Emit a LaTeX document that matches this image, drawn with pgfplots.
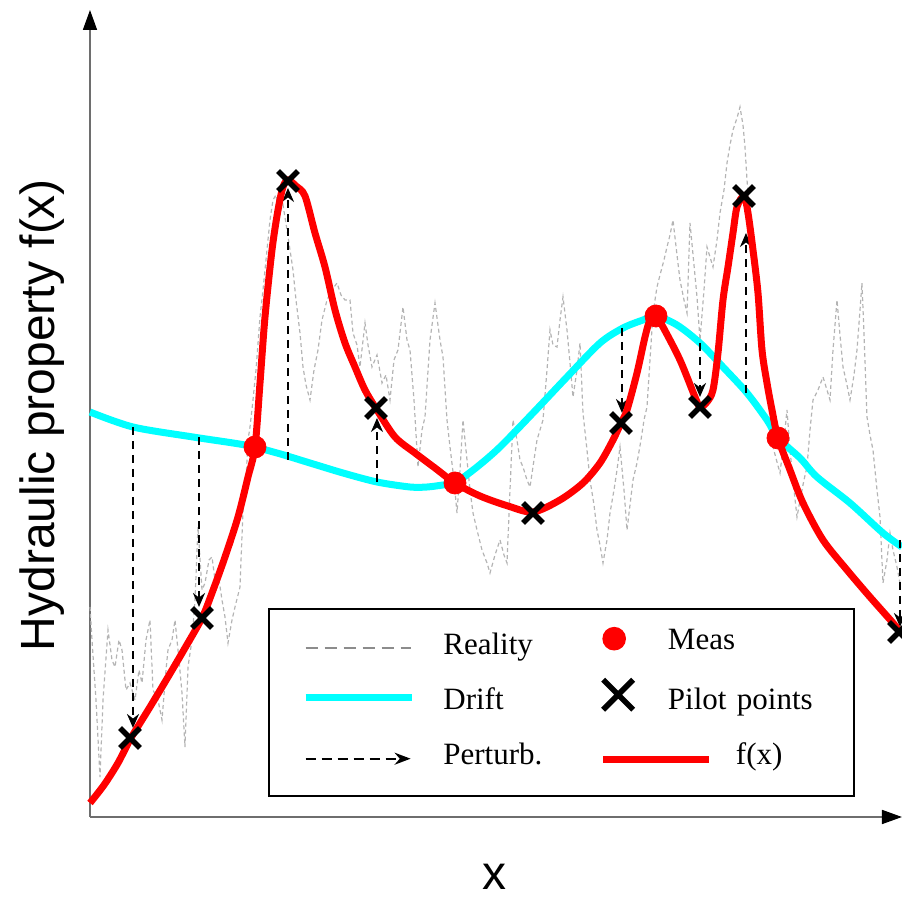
\documentclass[border=0pt]{standalone}
\usepackage{pgfplots}
\pgfplotsset{compat=1.18}
\usepackage{fontspec}
\setmainfont{Liberation Serif}
\newfontfamily\arialfont{Liberation Sans}
\usetikzlibrary{arrows.meta}
\definecolor{fred}{RGB}{255,0,0}
\definecolor{fcyan}{RGB}{0,255,255}
\definecolor{realgray}{RGB}{180,180,180}
\definecolor{leggray}{RGB}{140,140,140}
\definecolor{axgray}{RGB}{110,110,110}
\tikzset{axarrow/.style={-{Triangle[length=10pt,width=7pt,color=black]}}}
\begin{document}
\begin{tikzpicture}
\begin{axis}[
  scale only axis, width=406pt, height=403.5pt,
  xmin=90, xmax=902, ymin=83, ymax=890,
  axis lines=left,
  axis line style={draw=axgray, line width=0.8pt},
  every outer x axis line/.append style={axarrow},
  every outer y axis line/.append style={axarrow},
  every inner x axis line/.append style={axarrow},
  every inner y axis line/.append style={axarrow},
  xtick=\empty, ytick=\empty,
  clip=false,
  xlabel={x}, ylabel={Hydraulic property f(x)},
  label style={font=\arialfont\fontsize{24}{28}\selectfont},
  xlabel style={at={(axis cs:495,23)}, anchor=center, inner sep=0pt},
  ylabel style={at={(axis cs:42,485)}, anchor=center},
  legend columns=2,
  legend cell align=left,
  legend style={at={(axis cs:268,103)}, anchor=south west, draw=black, line width=0.8pt,
    inner xsep=18pt, inner ysep=12.5pt, column sep=16pt, row sep=14pt,
    font=\fontsize{15.5}{17}\selectfont,
    nodes={inner sep=0pt, text height=10pt, text depth=3.5pt},
    /tikz/column 2/.style={nodes={text width=63.5pt}},
    /tikz/column 4/.style={nodes={text width=75pt}}},
]
\addlegendimage{legend image code/.code={\draw[leggray, line width=1pt, dash pattern=on 6pt off 3.5pt, overlay] (0pt,0pt) -- (52.5pt,0pt); \path (0pt,0pt) (52.5pt,0pt);}}
\addlegendentry{Reality}
\addlegendimage{legend image code/.code={\fill[fred, overlay] (5.5pt,4.5pt) circle[radius=5.5pt]; \path (0pt,0pt) (16pt,0pt);}}
\addlegendentry{\raisebox{2.5pt}{Meas}}
\addlegendimage{legend image code/.code={\draw[fcyan, line width=3.5pt, overlay] (0pt,2.5pt) -- (53pt,2.5pt); \path (0pt,0pt) (52.5pt,0pt);}}
\addlegendentry{Drift}
\addlegendimage{legend image code/.code={\draw[black, line width=2.8pt, overlay] (0pt,-3.5pt) -- (15pt,11.5pt) (0pt,11.5pt) -- (15pt,-3.5pt); \path (0pt,0pt) (16pt,0pt);}}
\addlegendentry{Pilot points}
\addlegendimage{legend image code/.code={\draw[black, line width=1pt, dash pattern=on 5pt off 3pt, -{Stealth[length=8pt,width=6pt]}, overlay] (0pt,-0.5pt) -- (52.5pt,-0.5pt); \path (0pt,0pt) (52.5pt,0pt);}}
\addlegendentry{Perturb.}
\addlegendimage{legend image code/.code={\draw[fred, line width=3.5pt, overlay] (0pt,-1pt) -- (53pt,-1pt); \path (0pt,0pt) (16pt,0pt);}}
\addlegendentry{\hspace*{34pt}f(x)}

% Reality
\addplot[realgray, line width=0.6pt, dash pattern=on 2pt off 1.5pt, forget plot] coordinates {
(90,293)(92,260)(96,200)(100,123)(103,200)(108,270)(112,240)(115,233)(119,260)(122,250)
(126,210)(130,217)(135,200)(139,230)(142,217)(146,260)(150,280)(153,210)(158,200)(162,180)
(166,230)(168,250)(172,260)(175,280)(179,240)(182,207)(185,153)(188,233)(192,260)(195,300)
(198,373)(202,310)(205,317)(209,340)(212,343)(215,320)(218,327)(222,300)(225,283)(228,257)
(232,280)(235,293)(240,313)(243,390)(246,420)(248,460)(250,473)(253,500)(256,530)(260,583)
(263,610)(267,650)(270,680)(273,700)(276,705)(279,685)(283,695)(287,670)(290,650)(293,630)
(296,600)(300,567)(303,533)(306,515)(310,500)(314,530)(318,550)(322,580)(327,600)(332,610)
(337,617)(341,605)(345,600)(350,600)(353,567)(357,555)(360,533)(365,577)(368,555)(372,533)
(377,545)(382,517)(386,525)(390,500)(394,540)(398,550)(403,593)(407,560)(410,550)(414,500)
(418,433)(422,470)(425,483)(430,560)(435,597)(440,560)(443,543)(447,480)(450,453)(454,420)
(457,387)(460,430)(463,480)(467,440)(470,410)(473,387)(477,370)(482,350)(487,337)(490,327)
(495,345)(500,360)(504,345)(507,337)(510,410)(513,480)(517,460)(520,440)(523,433)(527,420)
(530,413)(534,440)(537,460)(540,470)(543,480)(547,530)(550,570)(553,555)(557,553)(560,580)
(563,603)(567,570)(570,537)(573,503)(577,530)(580,557)(583,487)(587,450)(590,420)(594,395)
(597,370)(600,355)(603,337)(607,360)(610,387)(614,410)(617,430)(620,453)(624,410)(627,370)
(630,395)(633,420)(637,437)(641,460)(644,480)(647,493)(650,540)(653,587)(657,613)(660,625)
(664,640)(667,653)(670,665)(673,680)(677,645)(680,620)(684,600)(687,587)(690,677)(694,635)
(697,603)(700,560)(704,610)(707,653)(710,643)(713,633)(717,660)(720,687)(724,710)(727,737)
(730,755)(733,770)(737,782)(740,793)(743,775)(745,753)(747,720)(750,685)(753,653)(757,630)
(760,603)(764,560)(767,520)(770,480)(773,453)(777,438)(780,427)(784,460)(787,490)(790,450)
(794,410)(797,383)(801,405)(804,420)(807,433)(810,470)(813,500)(818,510)(823,523)(827,510)
(830,500)(833,550)(837,600)(840,565)(843,533)(847,515)(850,500)(854,525)(857,550)(860,590)
(862,617)(865,540)(867,483)(870,465)(873,450)(877,410)(880,383)(883,317)(887,340)(890,367)
(893,350)(897,333)(900,317)
};
% Drift
\addplot[fcyan, line width=3.5pt, smooth, forget plot] coordinates {
(90,488)(133,473)(193,463)(245,455)(277,447)(310,437)(343,427)(377,418)(410,413)(427,413)
(443,415)(455,417)(477,433)(500,453)(533,487)(567,523)(600,557)(623,572)(643,580)(656,584)
(677,575)(700,557)(723,533)(747,507)(767,480)(778,462)(800,442)(817,423)(850,397)(883,367)(902,353)
};
% Perturbations
\pgfplotsset{perturb/.style={black, line width=1pt, dash pattern=on 4pt off 3pt, -{Stealth[length=7pt,width=6pt]}, forget plot}}
\addplot[perturb] coordinates {(133,473) (133,172)};
\addplot[perturb] coordinates {(199,463) (199,293)};
\addplot[perturb] coordinates {(288,440) (288,712)};
\addplot[perturb] coordinates {(377,418) (377,482)};
\addplot[perturb] coordinates {(622,572) (622,487)};
\addplot[perturb] coordinates {(700,557) (700,503)};
\addplot[perturb] coordinates {(746,507) (746,667)};
\addplot[perturb] coordinates {(900,360) (900,273)};
% f(x)
\addplot[fred, line width=3.5pt, smooth, tension=0.5, forget plot] coordinates {
(90,97)(104,115)(118,137)(131,162)(150,193)(168,223)(185,252)(202,282)(212,307)(225,343)
(238,383)(248,423)(255,453)(260,517)(265,583)(272,650)(278,690)(283,713)(288,720)(296,714)
(305,704)(315,667)(325,633)(335,590)(345,557)(355,533)(365,510)(377,490)(395,463)(415,447)
(435,432)(455,417)(480,404)(508,394)(533,388)(560,400)(583,417)(600,437)(613,460)(621,477)
(627,490)(637,527)(645,563)(650,580)(656,584)(663,573)(680,540)(695,503)(700,493)(707,498)
(713,510)(718,547)(723,600)(728,633)(733,667)(737,693)(744,704)(748,687)(753,650)(758,607)
(762,550)(767,517)(772,490)(778,462)(790,430)(803,397)(823,360)(847,330)(870,303)(893,277)(900,268)
};
% Measurements
\addplot[only marks, mark=*, mark size=5.5pt, fred, forget plot] coordinates {
(255,453)(455,417)(656,584)(778,462)
};
% Pilot points
\addplot[only marks, mark=x, mark size=7pt, black, line width=2.8pt, forget plot] coordinates {
(130,162)(202,282)(288,719)(376,492)(533,387)(621,477)(700,493)(744,704)(899,268)
};
\coordinate (bbsw) at (axis cs:0,0);
\coordinate (bbne) at (axis cs:902,900);
\end{axis}
\pgfresetboundingbox
\path[use as bounding box] (bbsw) rectangle (bbne);
\end{tikzpicture}
\end{document}
